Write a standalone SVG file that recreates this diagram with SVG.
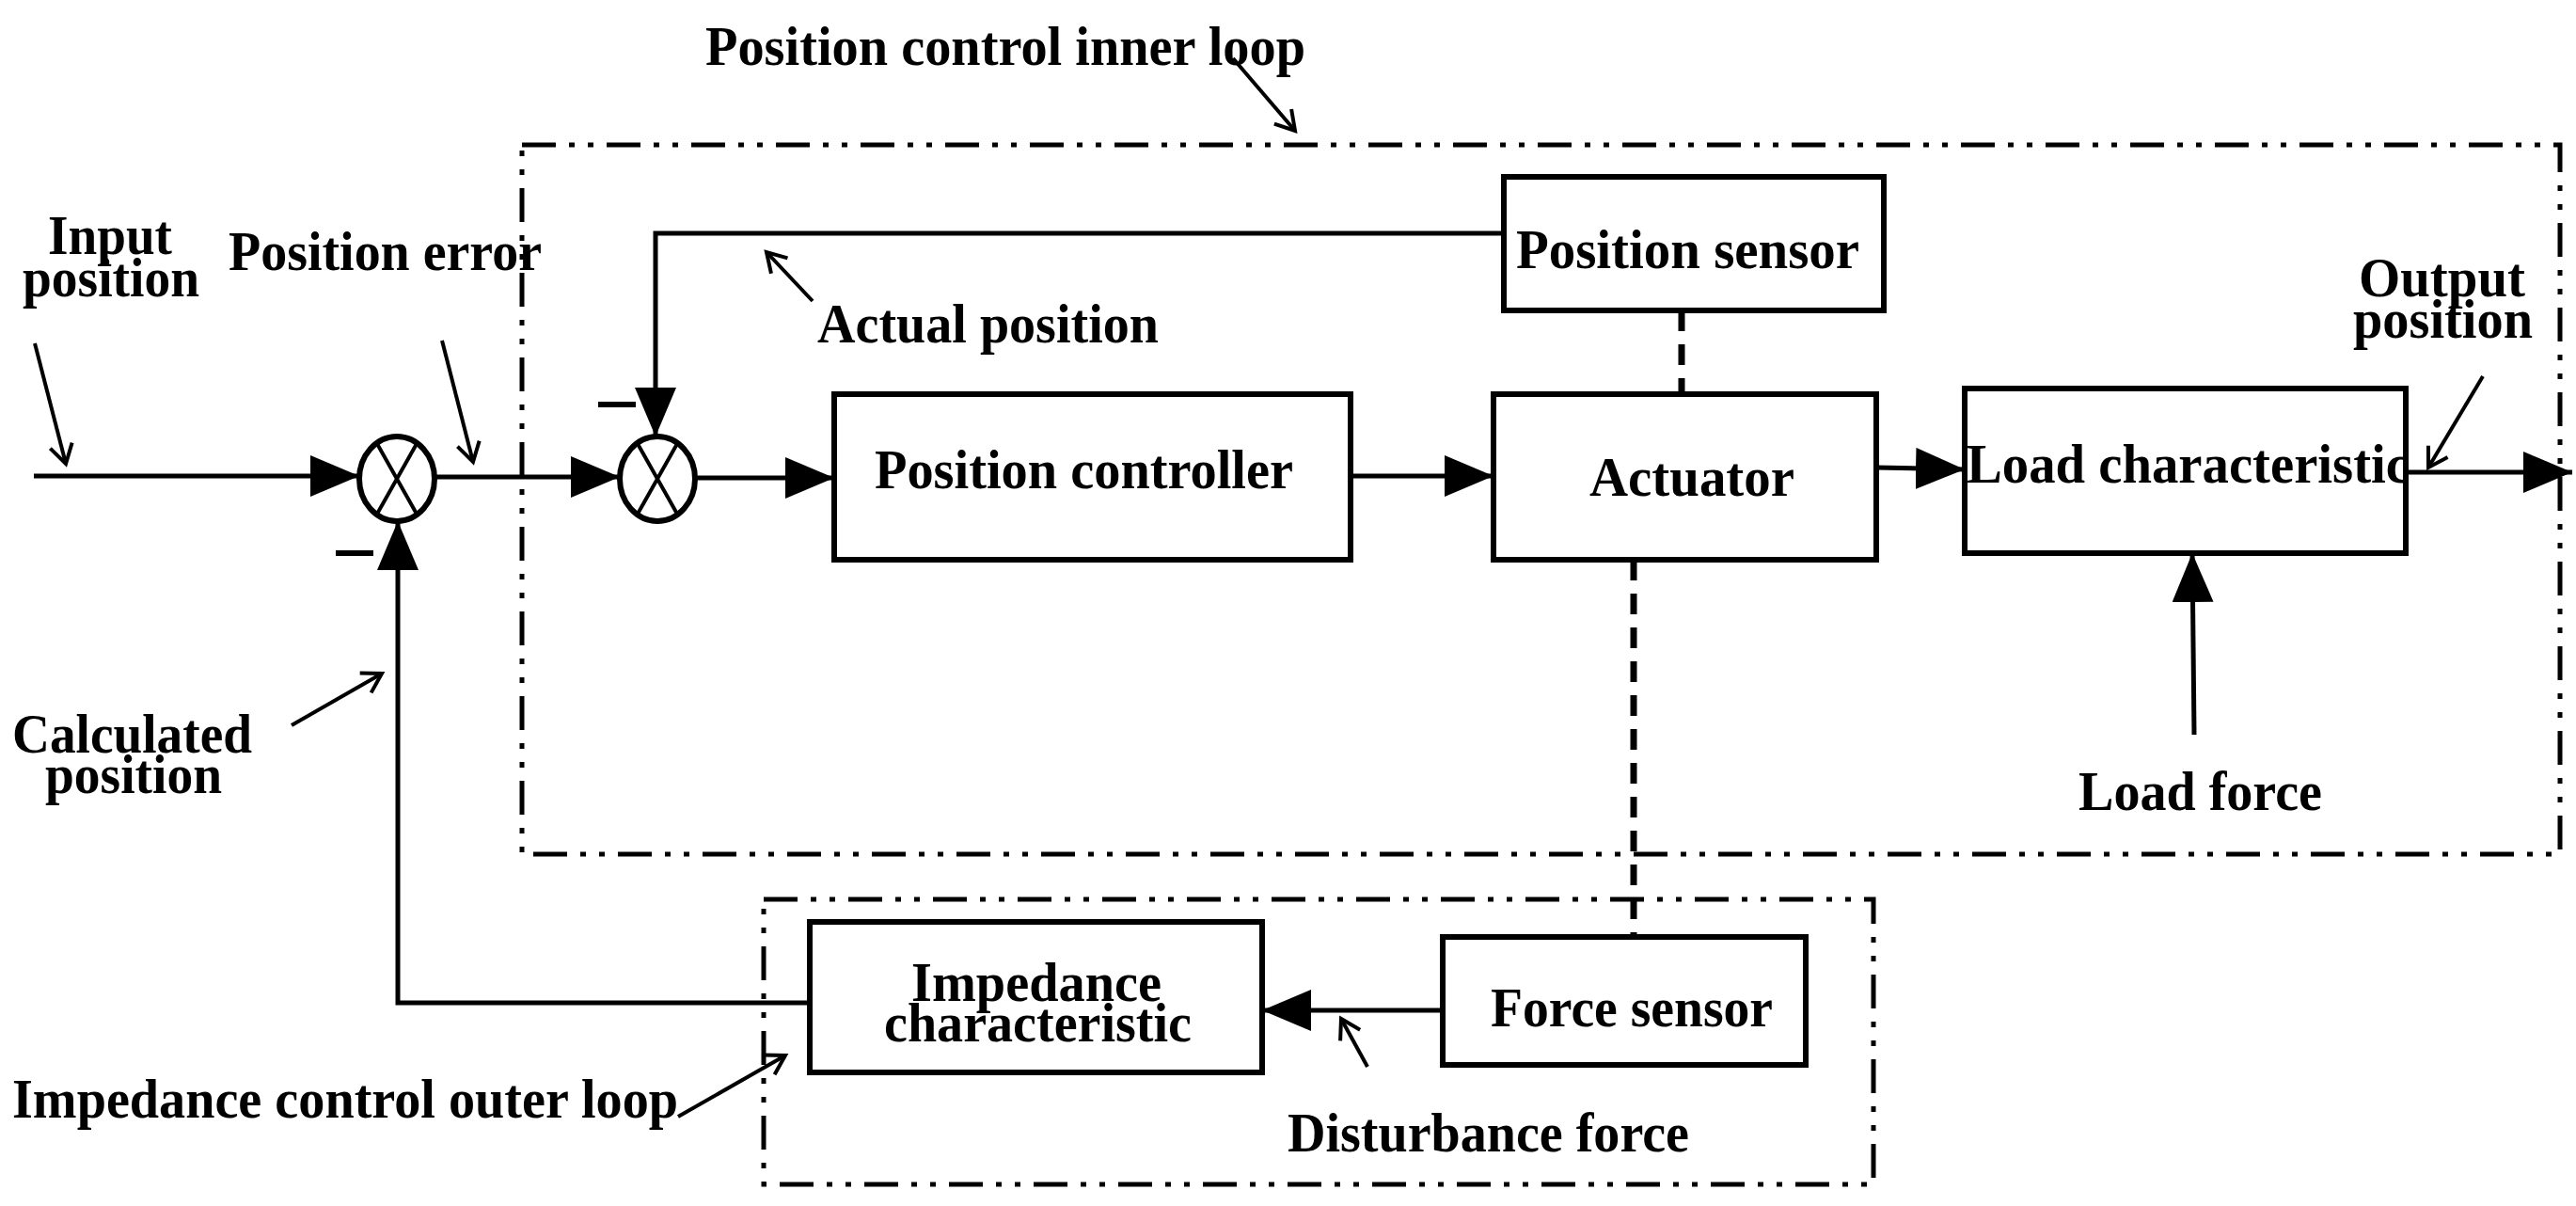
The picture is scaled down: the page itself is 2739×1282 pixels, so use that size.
<svg xmlns="http://www.w3.org/2000/svg" width="2739" height="1282" viewBox="0 0 2739 1282">
<style>
text{font-family:"Liberation Serif","Times New Roman",serif;font-weight:bold;font-size:60px;fill:#000}
.box{fill:#fff;stroke:#000;stroke-width:6}
.ln{fill:none;stroke:#000;stroke-width:5}
.ann{fill:none;stroke:#000;stroke-width:4;marker-end:url(#open)}
.loop{fill:none;stroke:#000;stroke-width:5;stroke-dasharray:36 14 6 14 6 14}
.dsh{fill:none;stroke:#000;stroke-width:7;stroke-dasharray:22 14}
</style>
<defs>
<marker id="arr" markerUnits="userSpaceOnUse" markerWidth="60" markerHeight="50" refX="52" refY="22" orient="auto"><path d="M0,0 L52,22 L0,44 Z" fill="#000"/></marker>
<marker id="open" markerUnits="userSpaceOnUse" markerWidth="40" markerHeight="40" refX="22" refY="14" orient="auto"><path d="M2,2 L22,14 L2,26" fill="none" stroke="#000" stroke-width="4"/></marker>
</defs>
<rect x="0" y="0" width="2739" height="1282" fill="#fff"/>
<g id="loops">
<rect class="loop" x="555" y="154" width="2167" height="754"/>
<rect class="loop" x="812" y="956" width="1180" height="303"/>
</g>
<g id="connectors">
<path class="ln" d="M36,506 H382" marker-end="url(#arr)"/>
<path class="ln" d="M462,507 H659" marker-end="url(#arr)"/>
<path class="ln" d="M739,508 H887" marker-end="url(#arr)"/>
<path class="ln" d="M1436,506 H1588" marker-end="url(#arr)"/>
<path class="ln" d="M1995,497 L2089,499" marker-end="url(#arr)"/>
<path class="ln" d="M2558,502 H2735" marker-end="url(#arr)"/>
<path class="ln" d="M1599,248 H697 V464" marker-end="url(#arr)"/>
<path class="ln" d="M1534,1074 H1342" marker-end="url(#arr)"/>
<path class="ln" d="M861,1066 H423 V554" marker-end="url(#arr)"/>
<path class="ln" d="M2333,781 L2331,588" marker-end="url(#arr)"/>
<path class="dsh" d="M1788,330 V419"/>
<path class="dsh" d="M1737,595 V996"/>
<path class="ann" d="M37,365 L70,493"/>
<path class="ann" d="M470,362 L503,491"/>
<path class="ann" d="M864,320 L815,268"/>
<path class="ann" d="M1311,62 L1377,139"/>
<path class="ann" d="M2640,400 L2582,497"/>
<path class="ann" d="M310,771 L406,716"/>
<path class="ann" d="M721,1187 L835,1122"/>
<path class="ann" d="M1454,1134 L1426,1083"/>
<path d="M636,430 H676 M357,588 H397" stroke="#000" stroke-width="6"/>
</g>
<g id="sum1"><ellipse cx="422" cy="509" rx="40" ry="45" class="box" stroke-width="5"/><path d="M400,470 L444,548 M444,470 L400,548" stroke="#000" stroke-width="4"/></g>
<g id="sum2"><ellipse cx="699" cy="509" rx="40" ry="45" class="box" stroke-width="5"/><path d="M677,470 L721,548 M721,470 L677,548" stroke="#000" stroke-width="4"/></g>
<g id="position-controller"><rect class="box" x="887" y="419" width="549" height="176"/><text x="930" y="519" textLength="445" lengthAdjust="spacingAndGlyphs">Position controller</text></g>
<g id="actuator"><rect class="box" x="1588" y="419" width="407" height="176"/><text x="1690" y="527" textLength="218" lengthAdjust="spacingAndGlyphs">Actuator</text></g>
<g id="position-sensor"><rect class="box" x="1599" y="188" width="404" height="142"/><text x="1612" y="285" textLength="365" lengthAdjust="spacingAndGlyphs">Position sensor</text></g>
<g id="load"><rect class="box" x="2089" y="413" width="469" height="175"/><text x="2091" y="513" textLength="471" lengthAdjust="spacingAndGlyphs">Load characteristic</text></g>
<g id="force-sensor"><rect class="box" x="1534" y="996" width="386" height="136"/><text x="1585" y="1091" textLength="300" lengthAdjust="spacingAndGlyphs">Force sensor</text></g>
<g id="impedance"><rect class="box" x="861" y="980" width="481" height="160"/><text x="969" y="1064" textLength="266" lengthAdjust="spacingAndGlyphs">Impedance</text><text x="940" y="1107" textLength="327" lengthAdjust="spacingAndGlyphs">characteristic</text></g>
<g id="labels">
<text x="750" y="69" textLength="638" lengthAdjust="spacingAndGlyphs">Position control inner loop</text>
<text x="51" y="270" textLength="132" lengthAdjust="spacingAndGlyphs">Input</text>
<text x="24" y="315" textLength="188" lengthAdjust="spacingAndGlyphs">position</text>
<text x="243" y="287" textLength="333" lengthAdjust="spacingAndGlyphs">Position error</text>
<text x="869" y="364" textLength="363" lengthAdjust="spacingAndGlyphs">Actual position</text>
<text x="2508" y="315" textLength="177" lengthAdjust="spacingAndGlyphs">Output</text>
<text x="2502" y="359" textLength="191" lengthAdjust="spacingAndGlyphs">position</text>
<text x="2210" y="861" textLength="259" lengthAdjust="spacingAndGlyphs">Load force</text>
<text x="13" y="800" textLength="255" lengthAdjust="spacingAndGlyphs">Calculated</text>
<text x="48" y="843" textLength="188" lengthAdjust="spacingAndGlyphs">position</text>
<text x="13" y="1188" textLength="708" lengthAdjust="spacingAndGlyphs">Impedance control outer loop</text>
<text x="1369" y="1224" textLength="427" lengthAdjust="spacingAndGlyphs">Disturbance force</text>
</g>
</svg>
